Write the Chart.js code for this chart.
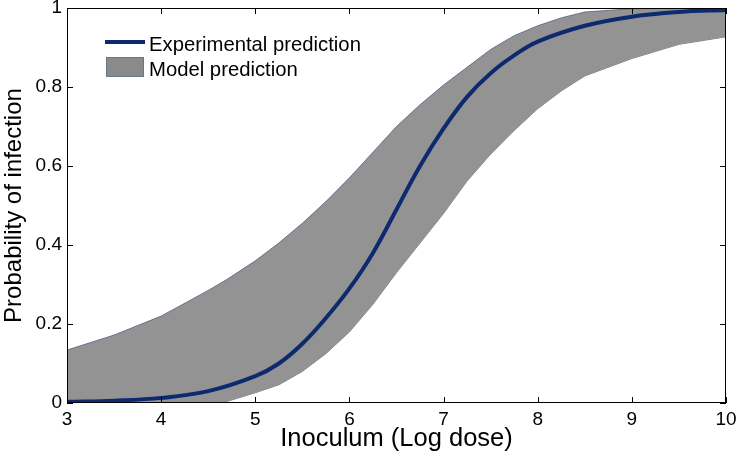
<!DOCTYPE html>
<html>
<head>
<meta charset="utf-8">
<script src="https://cdn.jsdelivr.net/npm/chart.js@4.4.1/dist/chart.umd.min.js"></script>
<style>
body { margin: 0; background: #fff; }
#wrap { width: 738px; height: 456px; }
</style>
</head>
<body>
<div id="wrap"><canvas id="doseChart" width="738" height="456"></canvas></div>
<script>
// values
const doseX = [3, 3.5, 4, 4.5, 4.7, 5, 5.25, 5.5, 5.75, 6, 6.25, 6.5, 6.75, 7, 7.25, 7.5, 7.75, 8, 8.25, 8.5, 9, 9.5, 10];
const modelUpper = [0.134, 0.172, 0.22, 0.285, 0.313, 0.36, 0.405, 0.455, 0.51, 0.57, 0.635, 0.70, 0.755, 0.805, 0.85, 0.895, 0.93, 0.955, 0.975, 0.99, 0.998, 1, 1];
const modelLower = [0, 0, 0, 0, 0.004, 0.026, 0.046, 0.08, 0.125, 0.18, 0.25, 0.33, 0.405, 0.48, 0.562, 0.63, 0.69, 0.745, 0.79, 0.828, 0.872, 0.908, 0.927];
const expX = [3, 3.5, 4, 4.5, 5, 5.25, 5.5, 5.75, 6, 6.25, 6.5, 6.75, 7, 7.25, 7.5, 7.75, 8, 8.5, 9, 9.5, 10];
const expY = [0.003, 0.006, 0.013, 0.03, 0.068, 0.1, 0.15, 0.215, 0.29, 0.38, 0.49, 0.6, 0.695, 0.775, 0.835, 0.88, 0.915, 0.955, 0.978, 0.99, 0.995];
const xTicks = [3, 4, 5, 6, 7, 8, 9, 10];
const yTicks = [0, 0.2, 0.4, 0.6, 0.8, 1];

const FONT = '"Liberation Sans", Arial, sans-serif';
const BLUE = '#0d2a6e';
const GREY = '#939393';

function pts(xs, ys) {
  return xs.map((x, i) => ({x: x, y: ys[i]}));
}

// box round the plot with inward ticks, like the original
const boxPlugin = {
  id: 'box',
  afterDatasetsDraw(chart) {
    const c = chart.ctx;
    const a = chart.chartArea;
    const xs = chart.scales.x, ys = chart.scales.y;
    c.save();
    c.strokeStyle = '#000';
    c.lineWidth = 1;
    c.strokeRect(a.left + 0.5, a.top + 0.5, a.right - a.left - 1, a.bottom - a.top - 1);
    c.beginPath();
    xTicks.forEach(v => {
      const px = Math.round(xs.getPixelForValue(v)) + 0.5;
      c.moveTo(px, a.bottom); c.lineTo(px, a.bottom - 6);
      c.moveTo(px, a.top); c.lineTo(px, a.top + 6);
    });
    yTicks.forEach(v => {
      const py = Math.round(ys.getPixelForValue(v)) + 0.5;
      c.moveTo(a.left, py); c.lineTo(a.left + 6, py);
      c.moveTo(a.right, py); c.lineTo(a.right - 6, py);
    });
    c.stroke();

    // legend inside the plot
    const ds = chart.data.datasets;
    c.font = '20.3px ' + FONT;
    c.fillStyle = '#000';
    c.textBaseline = 'middle';
    c.strokeStyle = ds[0].borderColor;
    c.lineWidth = 4;
    c.beginPath();
    c.moveTo(105, 42); c.lineTo(145, 42);
    c.stroke();
    c.fillText(ds[0].label, 149, 45);
    c.fillStyle = '#8a8a8a';
    c.fillRect(106, 57, 38, 20);
    c.strokeStyle = '#6a7590';
    c.lineWidth = 1;
    c.strokeRect(106.5, 57.5, 37, 19);
    c.fillStyle = '#000';
    c.fillText(ds[1].label, 149, 70);
    c.restore();
  }
};

new Chart(document.getElementById('doseChart'), {
  type: 'line',
  data: {
    datasets: [{
      label: 'Experimental prediction',
      data: pts(expX, expY),
      borderColor: BLUE,
      borderWidth: 4,
      pointRadius: 0,
      tension: 0.4,
      fill: false,
      order: 0
    }, {
      label: 'Model prediction',
      data: pts(doseX, modelUpper),
      borderColor: 'rgba(80,95,130,0.8)',
      borderWidth: 1,
      backgroundColor: GREY,
      pointRadius: 0,
      tension: 0,
      fill: 2,
      order: 1
    }, {
      label: 'Model lower',
      data: pts(doseX, modelLower),
      borderColor: 'rgba(80,95,130,0.8)',
      borderWidth: 1,
      pointRadius: 0,
      tension: 0,
      fill: false,
      order: 2
    }]
  },
  options: {
    responsive: false,
    animation: false,
    layout: { padding: { top: 8, right: 12, left: 0, bottom: 0 } },
    plugins: { legend: { display: false }, tooltip: { enabled: false } },
    scales: {
      x: {
        type: 'linear',
        min: 3, max: 10,
        grid: { display: false, drawTicks: false },
        border: { display: false },
        afterBuildTicks: s => { s.ticks = xTicks.map(v => ({value: v})); },
        ticks: { color: '#000', padding: 5, font: { family: FONT, size: 19 }, callback: v => String(v) },
        title: { display: true, text: 'Inoculum (Log dose)', color: '#000', padding: { top: 0, bottom: 2 }, font: { family: FONT, size: 25.5 } },
        afterFit: s => { s.height = 53; s.paddingLeft = 0; s.paddingRight = 0; }
      },
      y: {
        min: 0, max: 1,
        grid: { display: false, drawTicks: false },
        border: { display: false },
        afterBuildTicks: s => { s.ticks = yTicks.map(v => ({value: v})); },
        ticks: { color: '#000', padding: 5, font: { family: FONT, size: 19 }, callback: v => String(v) },
        title: { display: true, text: 'Probability of infection', color: '#000', padding: { top: 0, bottom: 0 }, font: { family: FONT, size: 24 } },
        afterFit: s => { s.width = 67; s.paddingTop = 0; s.paddingBottom = 0; }
      }
    }
  },
  plugins: [boxPlugin]
});
</script>
</body>
</html>
